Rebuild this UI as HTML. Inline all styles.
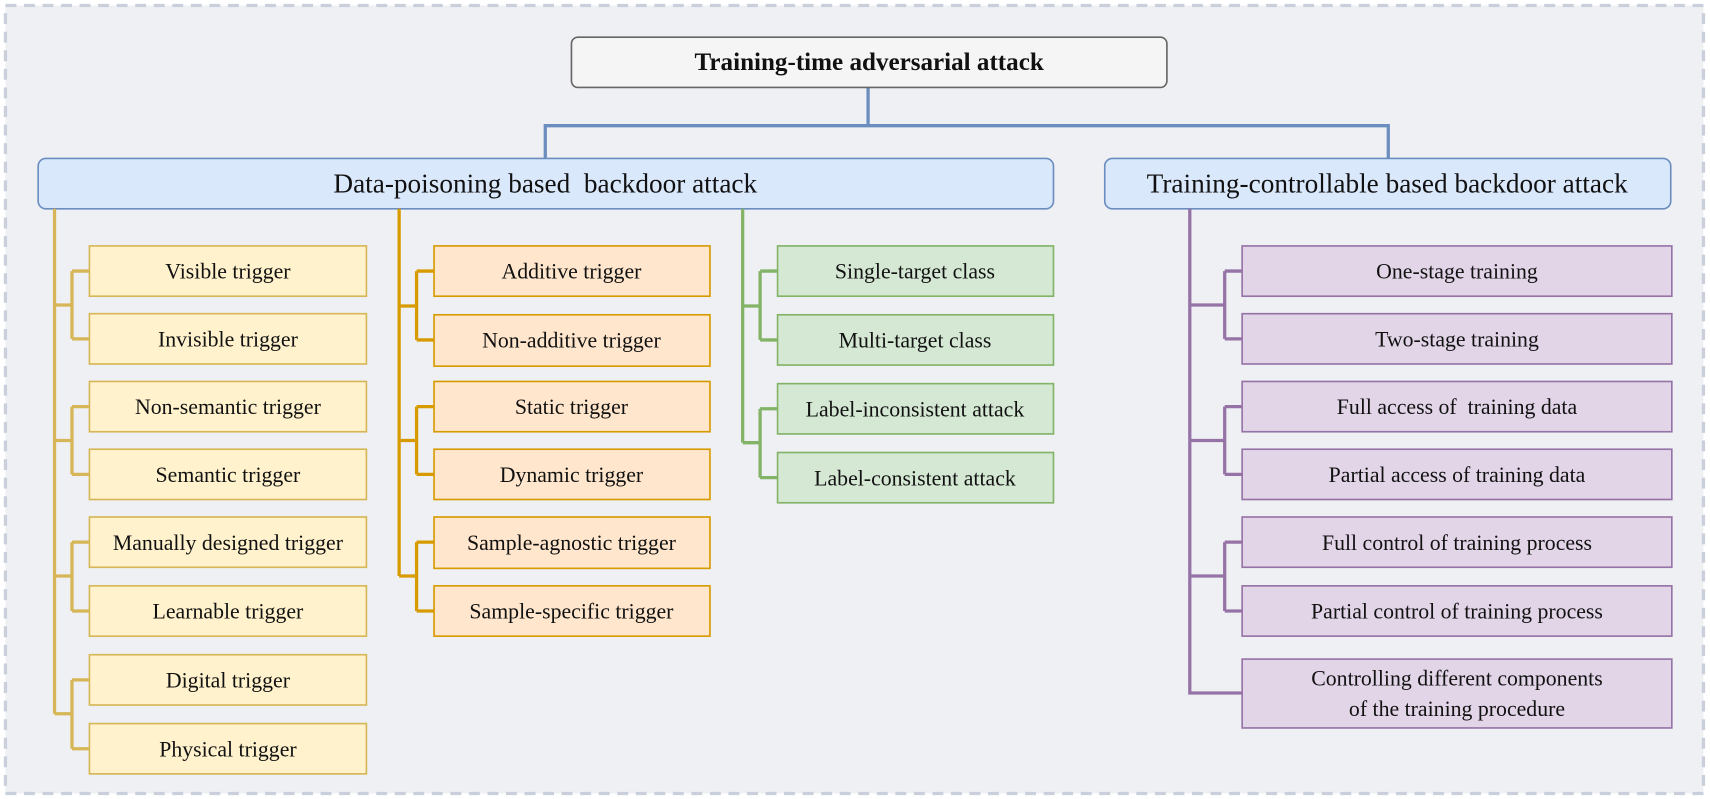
<!DOCTYPE html>
<html><head><meta charset="utf-8"><style>
html,body{margin:0;padding:0;background:#fff;}
svg{display:block;}
text{font-family:"Liberation Serif",serif;fill:#111;}
</style></head><body>
<svg width="1710" height="799" viewBox="0 0 1568 731" preserveAspectRatio="none" xmlns="http://www.w3.org/2000/svg">
<rect x="0" y="0" width="1568" height="731" fill="#ffffff"/>
<rect x="5" y="5" width="1557" height="721" fill="#eff0f4" stroke="#c9cfdb" stroke-width="3" stroke-dasharray="10,7"/>

<g fill="none" stroke="#6c8ebf" stroke-width="3">
<path d="M796 80 V115 M500 145 V115 H1273 V145"/>
</g>
<rect x="524" y="34" width="546" height="46" rx="6" fill="#f5f5f5" stroke="#666" stroke-width="1.5"/>
<text x="797" y="64" text-anchor="middle" font-size="23" font-weight="bold">Training-time adversarial attack</text>

<rect x="35" y="145" width="931" height="46" rx="7" fill="#dae8fc" stroke="#6c8ebf" stroke-width="1.5"/>
<text x="500" y="176" text-anchor="middle" font-size="25" xml:space="preserve">Data-poisoning based  backdoor attack</text>
<rect x="1013" y="145" width="519" height="46" rx="7" fill="#dae8fc" stroke="#6c8ebf" stroke-width="1.5"/>
<text x="1272" y="176" text-anchor="middle" font-size="25">Training-controllable based backdoor attack</text>

<g fill="none" stroke="#d6b656" stroke-width="3">
<path d="M50 191 V653"/>
<path d="M50 279 H66 M66 248 V310 M66 248 H82 M66 310 H82"/>
<path d="M50 403 H66 M66 372 V434 M66 372 H82 M66 434 H82"/>
<path d="M50 527 H66 M66 496 V559 M66 496 H82 M66 559 H82"/>
<path d="M50 653 H66 M66 622 V685 M66 622 H82 M66 685 H82"/>
</g>
<g fill="#fff2cc" stroke="#d6b656" stroke-width="1.5">
<rect x="82" y="225" width="254" height="46"/>
<rect x="82" y="287" width="254" height="46"/>
<rect x="82" y="349" width="254" height="46"/>
<rect x="82" y="411" width="254" height="46"/>
<rect x="82" y="473" width="254" height="46"/>
<rect x="82" y="536" width="254" height="46"/>
<rect x="82" y="599" width="254" height="46"/>
<rect x="82" y="662" width="254" height="46"/>
</g>
<g font-size="20" text-anchor="middle">
<text x="209" y="255">Visible trigger</text>
<text x="209" y="317">Invisible trigger</text>
<text x="209" y="379">Non-semantic trigger</text>
<text x="209" y="441">Semantic trigger</text>
<text x="209" y="503">Manually designed trigger</text>
<text x="209" y="566">Learnable trigger</text>
<text x="209" y="629">Digital trigger</text>
<text x="209" y="692">Physical trigger</text>
</g>

<g fill="none" stroke="#d79b00" stroke-width="3">
<path d="M366 191 V527"/>
<path d="M366 280 H382 M382 248 V311 M382 248 H398 M382 311 H398"/>
<path d="M366 403 H382 M382 372 V434 M382 372 H398 M382 434 H398"/>
<path d="M366 527 H382 M382 496 V559 M382 496 H398 M382 559 H398"/>
</g>
<g fill="#ffe6cc" stroke="#d79b00" stroke-width="1.5">
<rect x="398" y="225" width="253" height="46"/>
<rect x="398" y="288" width="253" height="47"/>
<rect x="398" y="349" width="253" height="46"/>
<rect x="398" y="411" width="253" height="46"/>
<rect x="398" y="473" width="253" height="47"/>
<rect x="398" y="536" width="253" height="46"/>
</g>
<g font-size="20" text-anchor="middle">
<text x="524" y="255">Additive trigger</text>
<text x="524" y="318">Non-additive trigger</text>
<text x="524" y="379">Static trigger</text>
<text x="524" y="441">Dynamic trigger</text>
<text x="524" y="503">Sample-agnostic trigger</text>
<text x="524" y="566">Sample-specific trigger</text>
</g>

<g fill="none" stroke="#82b366" stroke-width="3">
<path d="M681 191 V405"/>
<path d="M681 280 H697 M697 248 V311 M697 248 H713 M697 311 H713"/>
<path d="M681 405 H697 M697 374 V437 M697 374 H713 M697 437 H713"/>
</g>
<g fill="#d5e8d4" stroke="#82b366" stroke-width="1.5">
<rect x="713" y="225" width="253" height="46"/>
<rect x="713" y="288" width="253" height="46"/>
<rect x="713" y="351" width="253" height="46"/>
<rect x="713" y="414" width="253" height="46"/>
</g>
<g font-size="20" text-anchor="middle">
<text x="839" y="255">Single-target class</text>
<text x="839" y="318">Multi-target class</text>
<text x="839" y="381">Label-inconsistent attack</text>
<text x="839" y="444">Label-consistent attack</text>
</g>

<g fill="none" stroke="#9673a6" stroke-width="3">
<path d="M1091 191 V634 H1139"/>
<path d="M1091 279 H1123 M1123 248 V310 M1123 248 H1139 M1123 310 H1139"/>
<path d="M1091 403 H1123 M1123 372 V434 M1123 372 H1139 M1123 434 H1139"/>
<path d="M1091 527 H1123 M1123 496 V559 M1123 496 H1139 M1123 559 H1139"/>
</g>
<g fill="#e1d5e7" stroke="#9673a6" stroke-width="1.5">
<rect x="1139" y="225" width="394" height="46"/>
<rect x="1139" y="287" width="394" height="46"/>
<rect x="1139" y="349" width="394" height="46"/>
<rect x="1139" y="411" width="394" height="46"/>
<rect x="1139" y="473" width="394" height="46"/>
<rect x="1139" y="536" width="394" height="46"/>
<rect x="1139" y="603" width="394" height="63"/>
</g>
<g font-size="20" text-anchor="middle">
<text x="1336" y="255">One-stage training</text>
<text x="1336" y="317">Two-stage training</text>
<text x="1336" y="379" xml:space="preserve">Full access of  training data</text>
<text x="1336" y="441">Partial access of training data</text>
<text x="1336" y="503">Full control of training process</text>
<text x="1336" y="566">Partial control of training process</text>
<text x="1336" y="627">Controlling different components</text>
<text x="1336" y="655">of the training procedure</text>
</g>
</svg>
</body></html>
